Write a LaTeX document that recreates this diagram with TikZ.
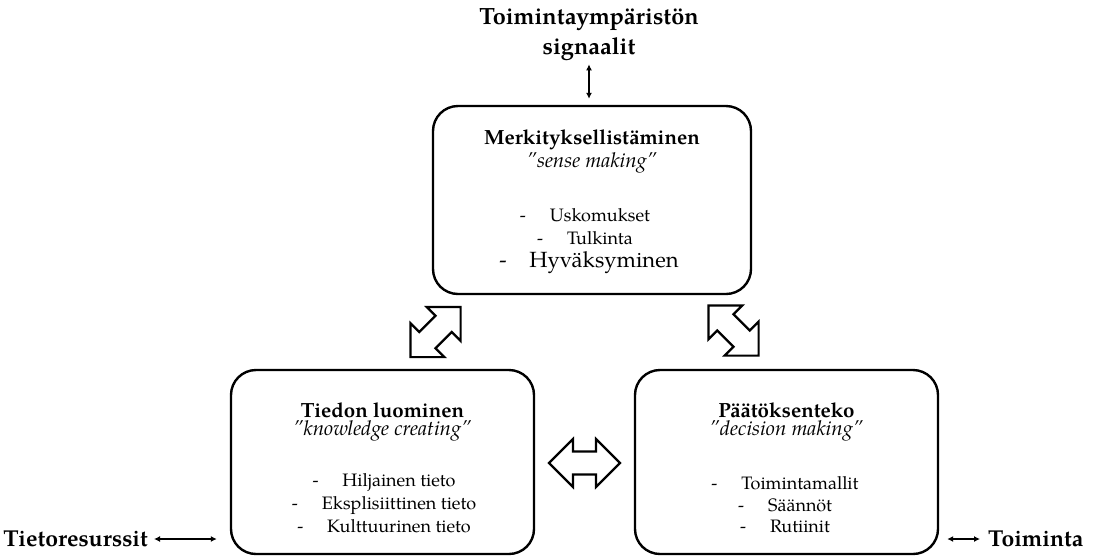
\documentclass[tikz,border=0pt]{standalone}
\usepackage{fontspec}
\setmainfont{TeX Gyre Pagella}
\usetikzlibrary{arrows.meta}
\newcommand{\dblarr}[3]{%
  \begin{scope}[shift={(#1,#2)}, rotate=#3]
    \draw[blk] (-35.5,0) -- (-11.5,24) -- (-11.5,11.5) -- (11.5,11.5) -- (11.5,24) -- (35.5,0)
      -- (11.5,-24) -- (11.5,-11.5) -- (-11.5,-11.5) -- (-11.5,-24) -- cycle;
  \end{scope}}
\newcommand{\itemdash}{\makebox[30pt][l]{-}}
\begin{document}
\begin{tikzpicture}[x=1pt,y=-1pt,
  box/.style={draw, line width=2.4pt, rounded corners=25pt, inner sep=0pt},
  blk/.style={draw, line width=2.2pt, fill=white, line join=miter},
  thinarr/.style={line width=1.3pt, {Latex[length=6pt,width=6pt]}-{Latex[length=6pt,width=6pt]}},
  ttl/.style={font=\bfseries\fontsize{20.5}{24}\selectfont, inner sep=0pt},
  sub/.style={font=\itshape\fontsize{20.5}{24}\selectfont, inner sep=0pt},
  itm/.style={font=\fontsize{18}{21}\selectfont, inner sep=0pt},
  lbl/.style={font=\bfseries\fontsize{23}{30}\selectfont, inner sep=0pt, align=center}]
\useasboundingbox (0,0) rectangle (1108,558);
% boxes
\node[box, minimum width=318pt, minimum height=188pt] (top) at (592,200) {};
\node[box, minimum width=303pt, minimum height=184pt] (left) at (382.5,462) {};
\node[box, minimum width=303pt, minimum height=184pt] (right) at (786.5,462) {};
% top box text
\node[ttl] (t1) at (592,140) {Merkityksellistäminen};
\node[sub] (t2) at (592,163) {”sense making”};
\node[itm] (t3) at (585,215) {\itemdash Uskomukset};
\node[itm] (t4) at (585,238) {\itemdash Tulkinta};
\node[itm, font=\fontsize{22}{25}\selectfont] (t5) at (589,263) {\itemdash Hyväksyminen};
% left box text
\node[ttl] (l1) at (382.5,410) {Tiedon luominen};
\node[sub] (l2) at (382.5,431) {”knowledge creating”};
\node[itm] (l3) at (384,483) {\itemdash Hiljainen tieto};
\node[itm] (l4) at (384,505) {\itemdash Eksplisiittinen tieto};
\node[itm] (l5) at (384,526) {\itemdash Kulttuurinen tieto};
% right box text
\node[ttl] (r1) at (786.5,410) {Päätöksenteko};
\node[sub] (r2) at (786.5,431) {”decision making”};
\node[itm] (r3) at (785,483) {\itemdash Toimintamallit};
\node[itm] (r4) at (785,505) {\itemdash Säännöt};
\node[itm] (r5) at (785,526) {\itemdash Rutiinit};
% outer labels
\node[lbl, font=\bfseries\fontsize{23.5}{30}\selectfont] (env) at (589,35) {Toimintaympäristön\\signaalit};
\node[lbl, anchor=east] (res) at (148,539) {Tietoresurssit};
\node[lbl, anchor=west] (act) at (988,539) {Toiminta};
% thin arrows
\draw[thinarr, shorten <=3pt, shorten >=6pt] (env.south) -- (env.south |- top.north);
\draw[thinarr, shorten <=6pt, shorten >=13pt] (res.east) -- (res.east -| left.west);
\draw[thinarr, shorten <=8pt, shorten >=8pt] (act.west -| right.east) -- (act.west);
% block arrows
\dblarr{435.5}{332}{45}
\dblarr{733.5}{330.5}{-45}
\dblarr{584.5}{463}{0}
\end{tikzpicture}
\end{document}
